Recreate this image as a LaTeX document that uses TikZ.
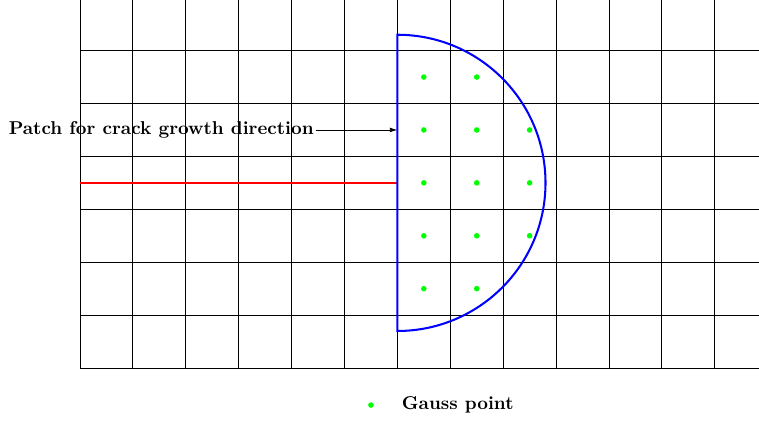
\documentclass[tikz,border=0pt]{standalone}
\usepackage{tikz}
\usetikzlibrary{positioning,arrows.meta}
\definecolor{gausscol}{RGB}{0,255,0}

\begin{document}
\begin{tikzpicture}[font=\bfseries,
   gridline/.style={draw=black,line width=0.5pt},
   crack/.style={draw=red,line width=1.1pt},
   patch/.style={draw=blue,line width=1.1pt},
   gpt/.style={circle,fill=gausscol,inner sep=0pt,minimum size=3pt},
   >={Latex[length=4pt,width=2.5pt]},node distance=4mm,
]
\useasboundingbox (-1.512,-1.0) rectangle (12.836,6.957);
\begin{scope}
\clip (-1.512,-1.0) rectangle (12.836,6.957);
\draw[gridline] (0,0) grid (13,7);
\end{scope}

% crack and circular patch
\coordinate (tip) at (6,3.5);
\draw[crack] (0,3.5) -- (tip);
\draw[patch] (6,0.7) arc[start angle=-90,end angle=90,radius=2.8] -- cycle;

% Gauss points inside the patch
\foreach \x in {6.5,7.5}
  \foreach \y in {1.5,2.5,...,5.5}
    \node[gpt] at (\x,\y) {};
\foreach \y in {2.5,3.5,4.5}
  \node[gpt] at (8.5,\y) {};

\coordinate (ptarget) at (6,4.5);
\node[anchor=east,inner sep=1pt] (plabel) at (4.46,4.5)
     {Patch for crack growth direction};
\draw[->] (plabel.east) -- (ptarget);

% legend
\node[gpt] (lgdot) at (5.5,-0.7) {};
\node[right=of lgdot] (lgtext) {Gauss point};
\end{tikzpicture}
\end{document}
